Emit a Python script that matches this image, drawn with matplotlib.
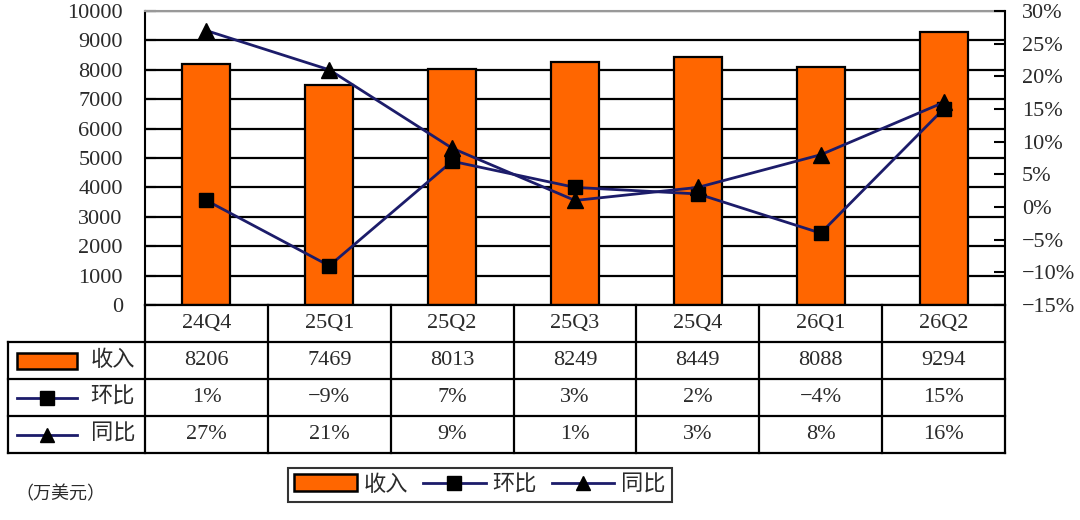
import matplotlib
matplotlib.use('Agg')
import matplotlib.pyplot as plt
from matplotlib.patches import Patch, Rectangle
from matplotlib.lines import Line2D
from matplotlib.ticker import FuncFormatter, MultipleLocator

plt.rcParams['font.family'] = ['Liberation Serif', 'Noto Sans CJK SC', 'DejaVu Sans']

# 数据
categories = ['24Q4', '25Q1', '25Q2', '25Q3', '25Q4', '26Q1', '26Q2']
revenue = [8206, 7469, 8013, 8249, 8449, 8088, 9294]   # 收入（万美元）
qoq = [1, -9, 7, 3, 2, -4, 15]                           # 环比 %
yoy = [27, 21, 9, 1, 3, 8, 16]                           # 同比 %
row_names = ['收入', '环比', '同比']

ORANGE = '#FF6600'
NAVY = '#1c1c6a'
TXT = '#2a2a2a'
FS = 16


def pct(v):
    s = '%d%%' % v
    return s.replace('-', '\u2212')


fig = plt.figure(figsize=(10.8, 5.2), dpi=100)
W, H = 1080, 520

# 主图
ax = fig.add_axes([145 / W, 1 - 305 / H, 860 / W, 294 / H])
xc = [i + 0.5 for i in range(len(categories))]
ax.bar(xc, revenue, width=0.39, color=ORANGE, edgecolor='black', linewidth=1.6, zorder=2)
ax.set_xlim(0, len(categories))
ax.set_ylim(0, 10000)
ax.yaxis.set_major_locator(MultipleLocator(1000))
ax.grid(axis='y', color='black', linewidth=1.6)
ax.set_axisbelow(True)
ax.set_xticks([])
ax.tick_params(axis='y', direction='in', length=8, width=1.5, pad=16, labelsize=FS, labelcolor=TXT)
for s in ['right', 'bottom']:
    ax.spines[s].set_visible(False)
ax.spines['top'].set_color('#999999')
ax.spines['top'].set_linewidth(1.5)
ax.spines['left'].set_linewidth(1.5)

ax2 = ax.twinx()
ax2.set_ylim(-0.15, 0.30)
ax2.yaxis.set_major_locator(MultipleLocator(0.05))
ax2.yaxis.set_major_formatter(FuncFormatter(lambda v, p: pct(round(v * 100))))
ax2.tick_params(axis='y', direction='in', length=8, width=1.5, pad=12, labelsize=FS, labelcolor=TXT)
for s in ['left', 'top', 'bottom']:
    ax2.spines[s].set_visible(False)
ax2.spines['right'].set_linewidth(1.5)
ax2.plot(xc, [v / 100 for v in qoq], color=NAVY, linewidth=2, marker='s', markersize=10,
         markerfacecolor='black', markeredgecolor='black', zorder=3)
ax2.plot(xc, [v / 100 for v in yoy], color=NAVY, linewidth=2, marker='^', markersize=11,
         markerfacecolor='black', markeredgecolor='black', zorder=3)

# 数据表
tab = fig.add_axes([8 / W, 1 - 453 / H, (1005 - 8) / W, 148 / H])
cw = 860 / 7
xl = -(145 - 8) / cw
tab.set_xlim(xl, len(categories))
tab.set_ylim(4, 0)
tab.axis('off')
lw = 1.6
tab.plot([0, 7], [0, 0], color='black', lw=lw, clip_on=False)
for r in [1, 2, 3, 4]:
    tab.plot([xl, 7], [r, r], color='black', lw=lw, clip_on=False)
for c in range(len(categories) + 1):
    tab.plot([c, c], [0, 4], color='black', lw=lw, clip_on=False)
tab.plot([xl, xl], [1, 4], color='black', lw=lw, clip_on=False)

for i, cat in enumerate(categories):
    tab.text(i + 0.5, 0.5, cat, ha='center', va='center', fontsize=FS, color=TXT)
    tab.text(i + 0.5, 1.5, str(revenue[i]), ha='center', va='center', fontsize=FS, color=TXT)
    tab.text(i + 0.5, 2.5, pct(qoq[i]), ha='center', va='center', fontsize=FS, color=TXT)
    tab.text(i + 0.5, 3.5, pct(yoy[i]), ha='center', va='center', fontsize=FS, color=TXT)

for r, name in enumerate(row_names):
    tab.text(-0.08, r + 1.5, name, ha='right', va='center', fontsize=FS, color=TXT)

k0 = (17 - 145) / cw
k1 = (77 - 145) / cw
tab.add_patch(Rectangle((k0, 1.3), k1 - k0, 0.42, facecolor=ORANGE, edgecolor='black', lw=1.8, clip_on=False))
tab.plot([k0, k1], [2.5, 2.5], color=NAVY, lw=2, clip_on=False)
tab.plot([(k0 + k1) / 2], [2.5], marker='s', markersize=10, color='black', clip_on=False)
tab.plot([k0, k1], [3.5, 3.5], color=NAVY, lw=2, clip_on=False)
tab.plot([(k0 + k1) / 2], [3.5], marker='^', markersize=10, color='black', clip_on=False)

# 图例
handles = [
    Patch(facecolor=ORANGE, edgecolor='black', linewidth=1.8, label='收入'),
    Line2D([], [], color=NAVY, lw=2, marker='s', markersize=10, markerfacecolor='black',
           markeredgecolor='black', label='环比'),
    Line2D([], [], color=NAVY, lw=2, marker='^', markersize=10, markerfacecolor='black',
           markeredgecolor='black', label='同比'),
]
leg = fig.legend(handles=handles, loc='center', bbox_to_anchor=(480 / W, 1 - 485 / H), ncol=3,
                 fontsize=FS, frameon=True, fancybox=False, handlelength=2.8, handleheight=0.8,
                 handletextpad=0.3, columnspacing=0.7, borderpad=0.3, labelcolor=TXT)
leg.get_frame().set_edgecolor('black')
leg.get_frame().set_linewidth(1.5)

fig.text(15 / W, 1 - 495 / H, '（万美元）', ha='left', va='center', fontsize=13, color=TXT)

fig.savefig('out.png', dpi=100)
